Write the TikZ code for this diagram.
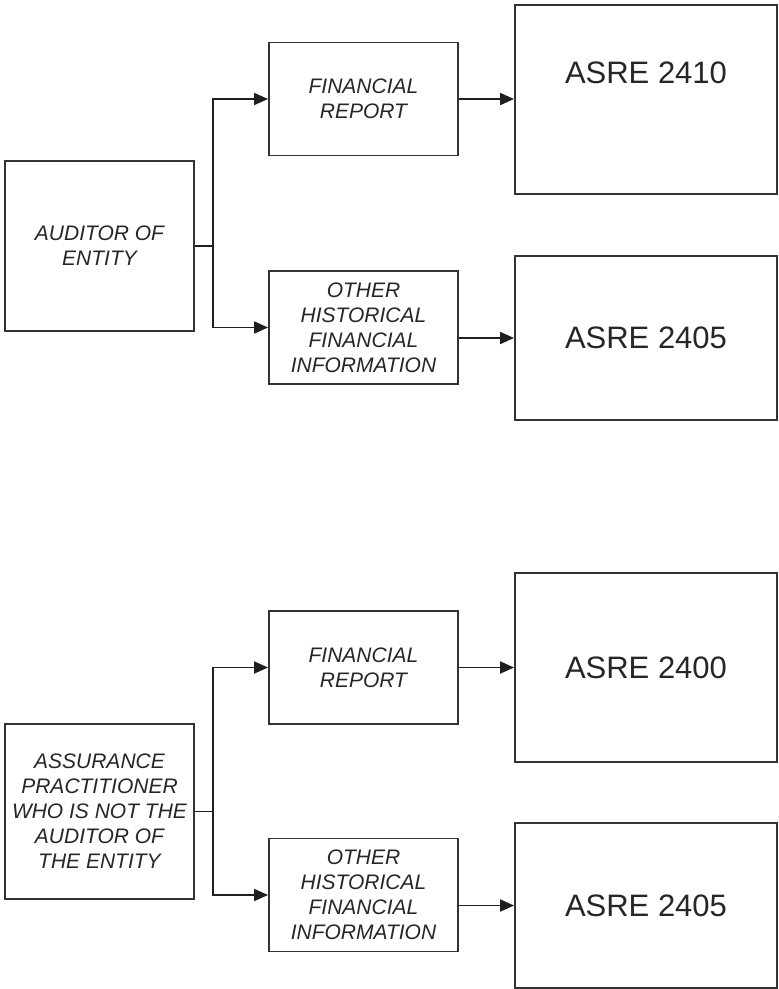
\documentclass[tikz,border=0pt]{standalone}
\usepackage{fontspec}
\setmainfont{Liberation Sans}
\usetikzlibrary{arrows.meta}

\begin{document}
\begin{tikzpicture}[x=1pt,y=-1pt,
  box/.style={draw=black!80,line width=1.9pt,inner sep=0pt,align=center,text=black!85,font=\fontsize{21}{25}\selectfont\itshape},
  smallbox/.style={box,minimum width=189pt,minimum height=113pt},
  sidebox/.style={box,minimum width=189pt},
  asrebox/.style={draw=black!80,line width=1.9pt,minimum width=262pt,inner sep=0pt},
  asretext/.style={text=black!85,font=\fontsize{31}{36}\selectfont,inner sep=0pt},
  arr/.style={draw=black!88,line width=1.9pt,-{Triangle[length=14pt,width=12pt]}}]
\useasboundingbox (0,0) rectangle (779,989);
\node[sidebox,minimum height=170pt] (auditor) at (99.5,246) {AUDITOR OF\\ENTITY};
\node[smallbox] (frA) at (363.5,99) {FINANCIAL\\REPORT};
\node[smallbox] (ohfiA) at (363.5,327.5) {OTHER\\HISTORICAL\\FINANCIAL\\INFORMATION};
\node[asrebox,minimum height=189pt] (asreA) at (646,99.5) {};
\node[asretext] (asreAtext) at (646,73) {ASRE 2410};
\node[asrebox,minimum height=164pt] (asreB) at (646,338) {};
\node[asretext] (asreBtext) at (asreB) {ASRE 2405};
\draw[arr] (auditor.east) -- ++(18,0) |- (frA.west);
\draw[arr] (auditor.east) -- ++(18,0) |- (ohfiA.west);
\draw[arr] (frA.east) -- (asreA.west |- frA.east);
\draw[arr] (ohfiA.east |- asreB) -- (asreB.west);
\node[sidebox,minimum height=175pt] (practitioner) at (99.5,811.5) {ASSURANCE\\PRACTITIONER\\WHO IS NOT THE\\AUDITOR OF\\THE ENTITY};
\node[smallbox] (frB) at (363.5,667.5) {FINANCIAL\\REPORT};
\node[smallbox] (ohfiB) at (363.5,895) {OTHER\\HISTORICAL\\FINANCIAL\\INFORMATION};
\node[asrebox,minimum height=189pt] (asreC) at (646,667.5) {};
\node[asretext] (asreCtext) at (asreC) {ASRE 2400};
\node[asrebox,minimum height=165pt] (asreD) at (646,905.5) {};
\node[asretext] (asreDtext) at (asreD) {ASRE 2405};
\draw[arr] (practitioner.east) -- ++(18,0) |- (frB.west);
\draw[arr] (practitioner.east) -- ++(18,0) |- (ohfiB.west);
\draw[arr] (frB.east) -- (asreC.west |- frB.east);
\draw[arr] (ohfiB.east |- asreD) -- (asreD.west);
\end{tikzpicture}
\end{document}
